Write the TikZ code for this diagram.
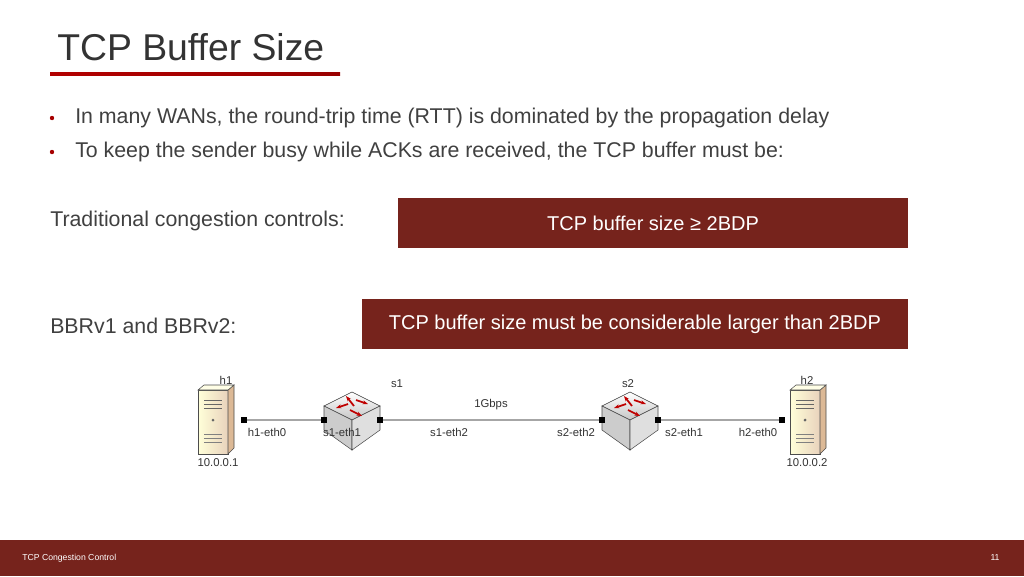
\documentclass[tikz,border=0pt]{standalone}
\usepackage{fontspec}
\setmainfont{Liberation Sans}
\usetikzlibrary{positioning,arrows.meta}
\definecolor{darkred}{HTML}{76231C}
\definecolor{txt}{HTML}{404040}
\tikzset{
    bodytext/.style={font=\fontsize{16}{19}\selectfont,text=txt,anchor=west,inner sep=0pt},
    banner/.style={fill=darkred,text=white,font=\fontsize{15}{18}\selectfont,inner sep=0pt},
    netlabel/.style={font=\fontsize{8.5}{10}\selectfont,text=black!80,inner sep=1pt},
    port/.style={fill=black,minimum size=4pt,inner sep=0pt,rectangle},
    link/.style={draw=gray!70,line width=0.9pt},
}
\newcommand{\serverbox}[2]{% name, position
  \begin{scope}[shift={#2}]
    \fill[left color=yellow!15!white,right color=brown!35!white,draw=black!70] (-18,-30) -- (12,-30) -- (12,34) -- (-18,34) -- cycle;
    \fill[brown!55!white,draw=black!70] (12,-30) -- (18,-35) -- (18,28) -- (12,34) -- cycle;
    \fill[yellow!10!white,draw=black!70] (-18,-30) -- (-12,-35) -- (18,-35) -- (12,-30) -- cycle;
    \foreach \yy in {-20,-16,-12} \draw[black!60] (-12,\yy) -- (6,\yy);
    \fill[black!60] (-3,0) circle (1.5);
    \foreach \yy in {14,18,22} \draw[black!50] (-12,\yy) -- (6,\yy);
    \coordinate (#1) at (0,0);
  \end{scope}}
\newcommand{\switchbox}[2]{% name, position
  \begin{scope}[shift={#2}]
    \fill[top color=white,bottom color=gray!45,draw=black!70] (0,-28) -- (28,-14) -- (0,0) -- (-28,-14) -- cycle;
    \fill[gray!40,draw=black!70] (-28,-14) -- (0,0) -- (0,30) -- (-28,10) -- cycle;
    \fill[gray!25,draw=black!70] (28,-14) -- (0,0) -- (0,30) -- (28,10) -- cycle;
    \begin{scope}[red!75!black,line width=1.3pt,-{Stealth[length=4pt]}]
      \draw (-4,-16) -- (-16,-12);
      \draw (2,-14) -- (-6,-24);
      \draw (-2,-10) -- (10,-4);
      \draw (4,-20) -- (16,-16);
    \end{scope}
    \coordinate (#1) at (0,0);
  \end{scope}}
\begin{document}
\begin{tikzpicture}[x=0.75pt,y=-0.75pt]
  \useasboundingbox (0,0) rectangle (1024,576);
  \fill[white] (0,0) rectangle (1024,576);

  % title
  \node[anchor=west,font=\fontsize{28}{32}\selectfont,text=black!80,inner sep=0pt] (title) at (57,47) {TCP Buffer Size};
  \shade[left color=red!70!black,right color=red!60!black] (50,72) rectangle (340,75);

  % bullets
  \node[bodytext] (b1) at (75,118) {In many WANs, the round-trip time (RTT) is dominated by the propagation delay};
  \node[bodytext] (b2) at (75,152) {To keep the sender busy while ACKs are received, the TCP buffer must be:};
  \foreach \yy in {118,152} \fill[red!65!black] (52,\yy) circle (2.2);

  \node[bodytext] (trad) at (50,221) {Traditional congestion controls:};
  \node[bodytext] (bbr) at (50,326) {BBRv1 and BBRv2:};

  % banners
  \node[banner,minimum width=510*0.75pt,minimum height=50*0.75pt] (box1) at (653,223) {TCP buffer size \symbol{"2265} 2BDP};
  \node[banner,minimum width=546*0.75pt,minimum height=50*0.75pt] (box2) at (635,324) {TCP buffer size must be considerable larger than 2BDP};

  % network
  \serverbox{h1}{(216,420)}
  \serverbox{h2}{(808,420)}
  \switchbox{s1}{(352,420)}
  \switchbox{s2}{(630,420)}
  \node[port] (p1) at (244,420) {};
  \node[port] (p2) at (324,420) {};
  \node[port] (p3) at (380,420) {};
  \node[port] (p4) at (602,420) {};
  \node[port] (p5) at (658,420) {};
  \node[port] (p6) at (782,420) {};
  \draw[link] (p1) -- (p2);
  \draw[link] (p3) -- node[netlabel,above=6pt] {1Gbps} (p4);
  \draw[link] (p5) -- (p6);

  \node[netlabel] (lh1) at (226,380) {h1};
  \node[netlabel] (ls1) at (397,384) {s1};
  \node[netlabel] (ls2) at (628,384) {s2};
  \node[netlabel] (lh2) at (807,380) {h2};
  \node[netlabel] (e1) at (267,432) {h1-eth0};
  \node[netlabel] (e2) at (342,432) {s1-eth1};
  \node[netlabel] (e3) at (449,432) {s1-eth2};
  \node[netlabel] (e4) at (576,432) {s2-eth2};
  \node[netlabel] (e5) at (684,432) {s2-eth1};
  \node[netlabel] (e6) at (758,432) {h2-eth0};
  \node[netlabel] (ip1) at (218,463) {10.0.0.1};
  \node[netlabel] (ip2) at (807,463) {10.0.0.2};

  % footer
  \fill[darkred] (0,540) rectangle (1024,576);
  \node[anchor=west,text=white,font=\fontsize{6.5}{8}\selectfont,inner sep=0pt] (foot) at (22,558) {TCP Congestion Control};
  \node[text=white,font=\fontsize{6.5}{8}\selectfont,inner sep=0pt] (page) at (995,558) {11};
\end{tikzpicture}
\end{document}
